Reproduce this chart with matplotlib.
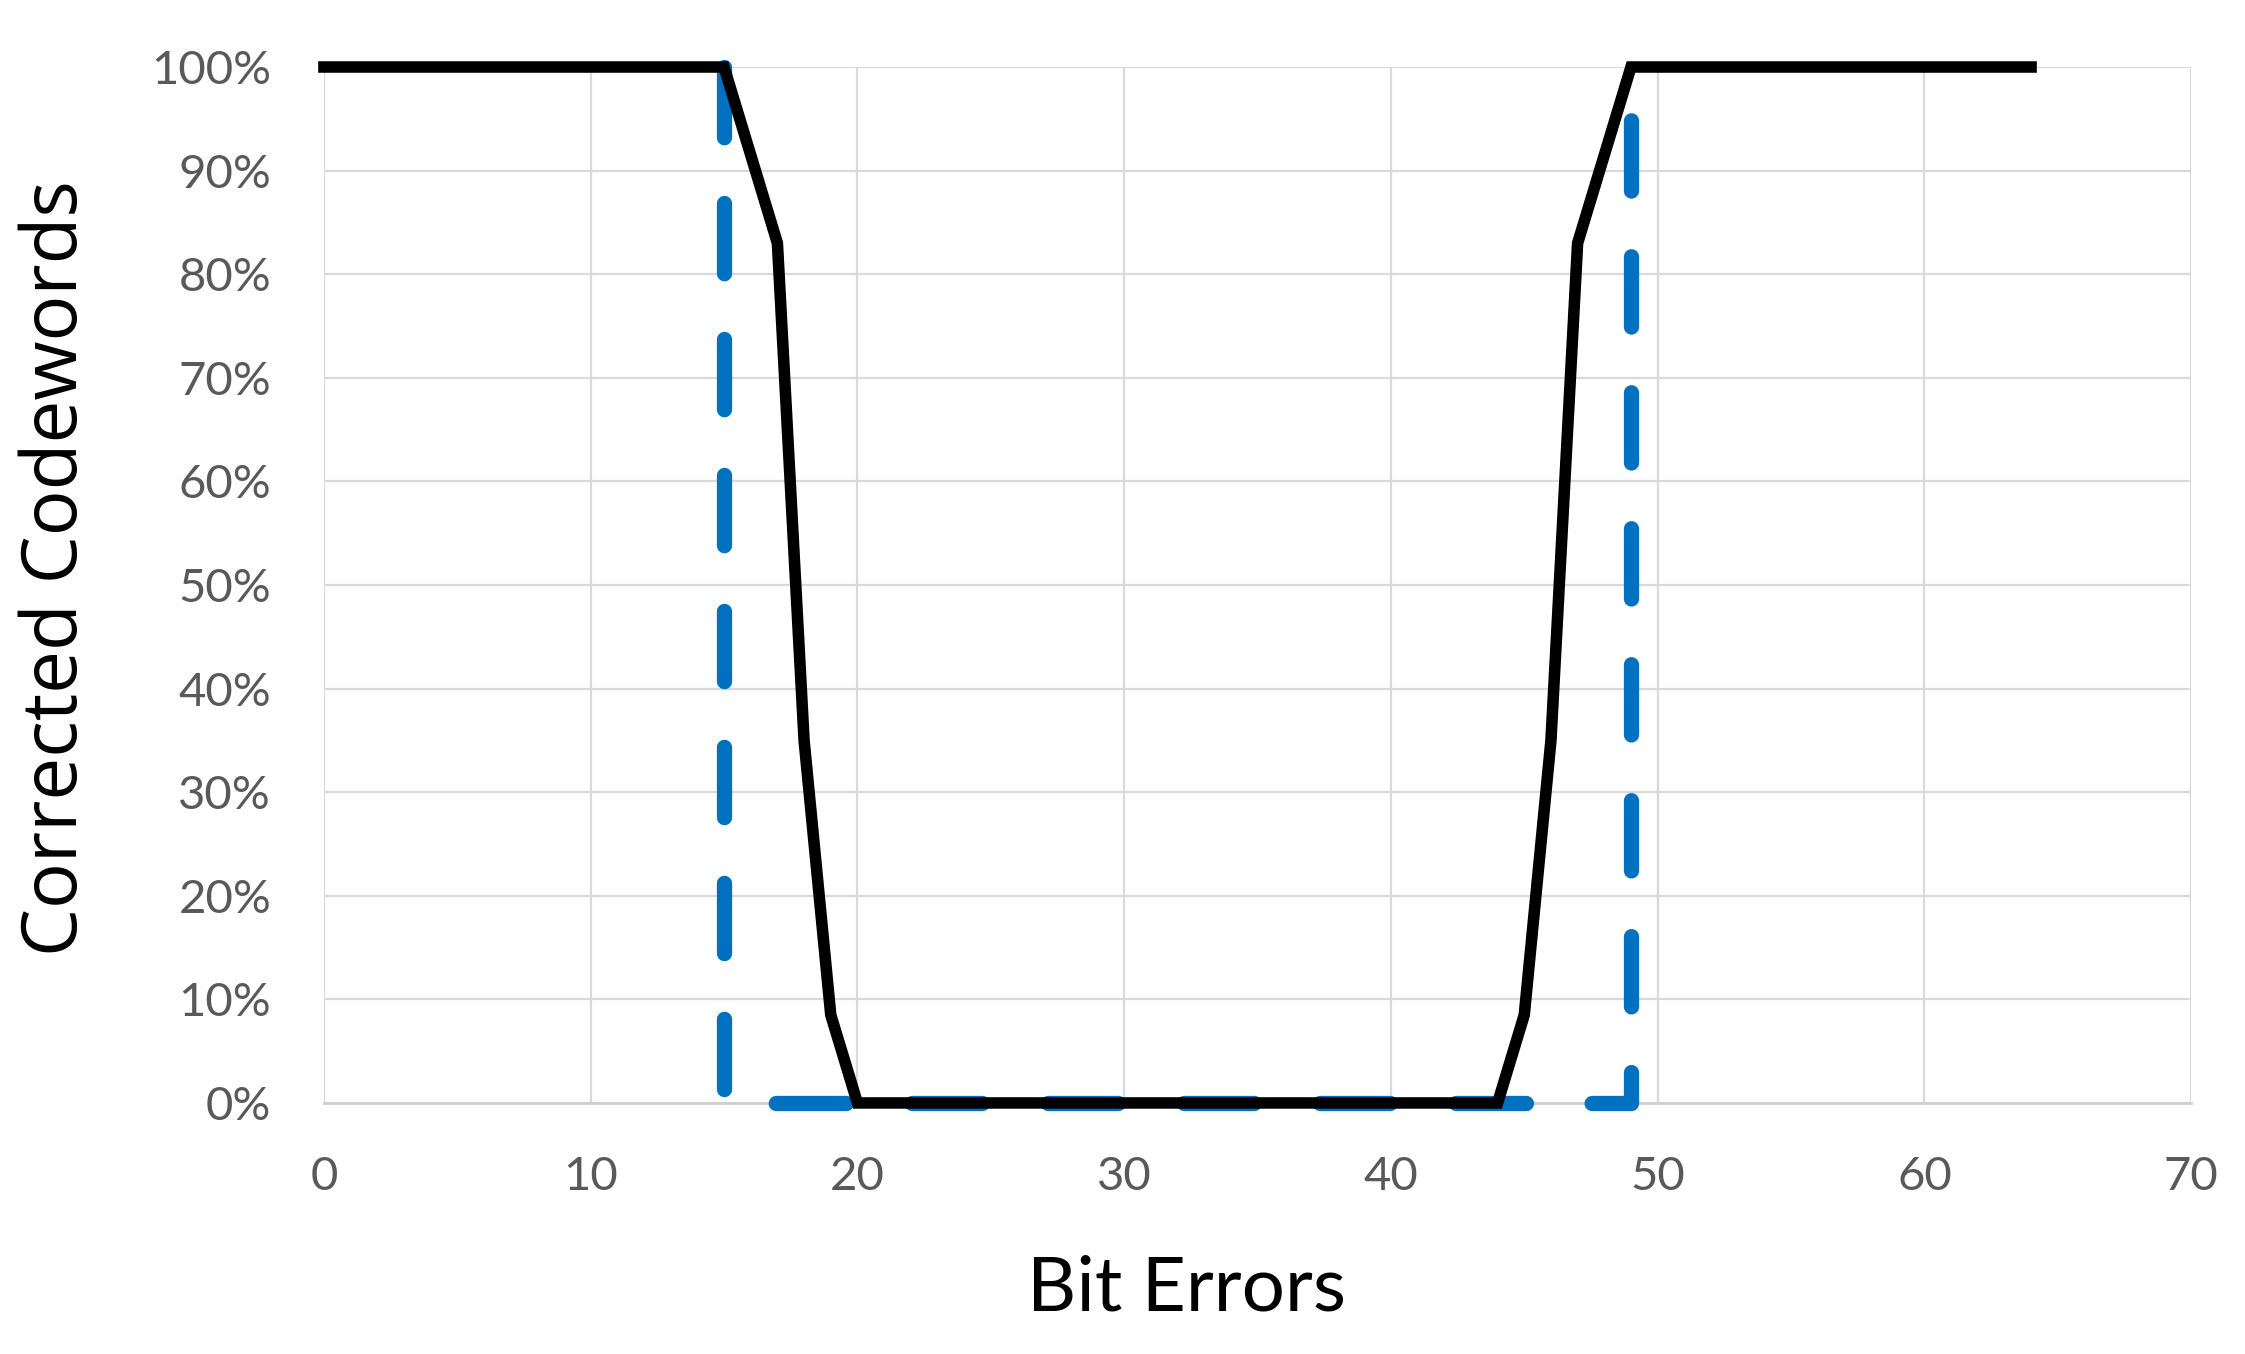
import matplotlib
matplotlib.use("Agg")
import matplotlib.pyplot as plt
from matplotlib.ticker import FuncFormatter

# Data
black_x = [0, 15, 17, 18, 19, 20, 44, 45, 46, 47, 49, 64]
black_y = [1.0, 1.0, 0.83, 0.35, 0.085, 0.0, 0.0, 0.085, 0.35, 0.83, 1.0, 1.0]
blue_x = [15, 15, 49, 49]
blue_y = [1.0, 0.0, 0.0, 1.0]
x_ticks = [0, 10, 20, 30, 40, 50, 60, 70]
y_ticks = [0, 0.1, 0.2, 0.3, 0.4, 0.5, 0.6, 0.7, 0.8, 0.9, 1.0]

fig = plt.figure(figsize=(22.45, 13.54), dpi=100)
ax = fig.add_axes([0.1443, 0.1854, 0.8317, 0.7651])

ax.plot(blue_x, blue_y, color="#0070C0", lw=11, dashes=(4.6, 4.3),
        dash_capstyle="round", solid_capstyle="butt", clip_on=False, zorder=3)
ax.plot(black_x, black_y, color="black", lw=8.3, solid_joinstyle="miter",
        clip_on=False, zorder=4)

ax.set_xlim(0, 70)
ax.set_ylim(0, 1)
ax.set_xticks(x_ticks)
ax.set_yticks(y_ticks)
ax.yaxis.set_major_formatter(FuncFormatter(lambda v, p: f"{int(round(v*100))}%"))

ax.grid(True, color="#d9d9d9", lw=1.6, zorder=0)
ax.set_axisbelow(True)
for s in ["top", "right", "left"]:
    ax.spines[s].set_visible(False)
ax.spines["bottom"].set_color("#cfcfcf")
ax.spines["bottom"].set_linewidth(2.0)

ax.tick_params(axis="both", length=0, labelcolor="#595959", labelsize=34)
ax.tick_params(axis="y", pad=38)
ax.tick_params(axis="x", pad=38)
for lab in ax.get_xticklabels() + ax.get_yticklabels():
    lab.set_fontfamily("Lato")

fig.text(0.0254, 0.5805, "Corrected Codewords", rotation=90, ha="center", va="center",
         fontsize=55, fontfamily="Open Sans", color="black")
fig.text(0.5287, 0.0478, "Bit Errors", ha="center", va="center",
         fontsize=55, fontfamily="Lato", color="black")

fig.savefig("out.png", dpi=100)
